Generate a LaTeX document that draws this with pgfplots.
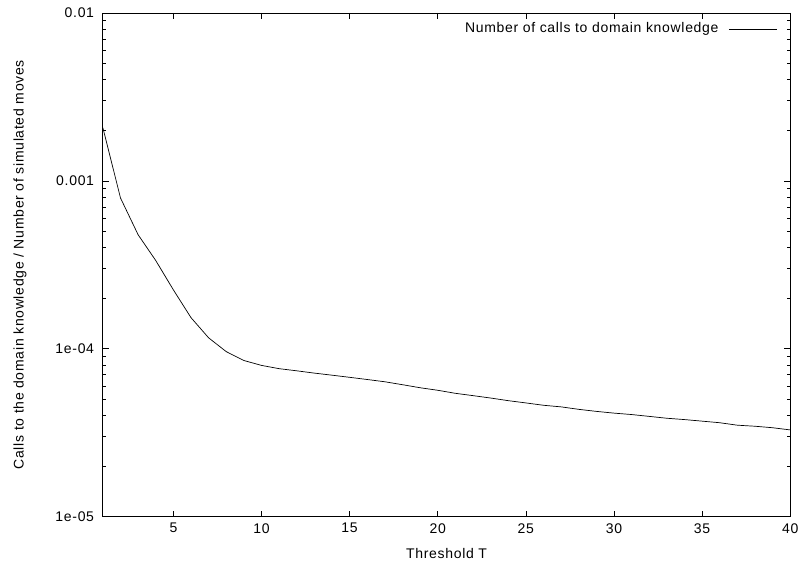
\documentclass[border=0pt]{standalone}
\usepackage{fontspec}
\setmainfont{Liberation Sans}[LetterSpace=5]
\usepackage{pgfplots}
\pgfplotsset{compat=1.18}
\newcommand{\gpfont}{\fontsize{14}{16}\selectfont}
\begin{document}
\gpfont
\begin{tikzpicture}
\begin{axis}[
  scale only axis,
  width=688pt, height=504pt,
  xmin=1, xmax=40,
  ymode=log, ymin=1e-5, ymax=1e-2,
  xtick={5,10,...,40},
  ytick={1e-5,1e-4,1e-3,1e-2},
  yticklabels={1e-05,1e-04,0.001,0.01},
  /pgf/number format/assume math mode=true,
  tick align=inside,
  major tick length=6pt,
  minor tick length=3pt,
  tick style={black, line width=0.6pt},
  axis line style={line width=0.8pt},
  xlabel={Threshold T},
  ylabel={Calls to the domain knowledge / Number of simulated moves},
  xlabel style={at={(axis description cs:0.5,-0.073)}, anchor=center},
  ylabel style={at={(axis description cs:-0.1206,0.5)}, anchor=center},
  ticklabel style={font=\gpfont},
  xticklabel style={yshift=-2pt},
  yticklabel style={xshift=-4pt},
  label style={font=\gpfont},
  legend style={draw=none, fill=none, at={(rel axis cs:0.981,0.985)}, anchor=north east,
    inner sep=0pt, font=\gpfont},
  legend cell align=right,
  legend plot pos=right,
  legend image post style={xscale=2.8},
]
\addplot[black, line width=0.7pt] coordinates {
(1,0.00207) (2,0.00079) (3,0.000477) (4,0.000335) (5,0.000224) (6,0.000153)
(7,0.000116) (8,9.6e-5) (9,8.5e-5) (10,7.95e-5) (11,7.6e-5) (12,7.38e-5)
(13,7.15e-5) (14,6.95e-5) (15,6.75e-5) (16,6.55e-5) (17,6.35e-5) (18,6.1e-5)
(19,5.85e-5) (20,5.65e-5) (21,5.42e-5) (22,5.25e-5) (23,5.08e-5) (24,4.9e-5)
(25,4.75e-5) (26,4.6e-5) (27,4.5e-5) (28,4.35e-5) (29,4.23e-5) (30,4.13e-5)
(31,4.05e-5) (32,3.95e-5) (33,3.85e-5) (34,3.78e-5) (35,3.7e-5) (36,3.62e-5)
(37,3.5e-5) (38,3.45e-5) (39,3.38e-5) (40,3.28e-5)
};
\addlegendentry{Number of calls to domain knowledge\kern8pt\null}
\end{axis}
\path ([xshift=-103pt,yshift=-48pt]current axis.south west) rectangle ([xshift=12pt,yshift=13pt]current axis.north east);
\end{tikzpicture}
\end{document}
